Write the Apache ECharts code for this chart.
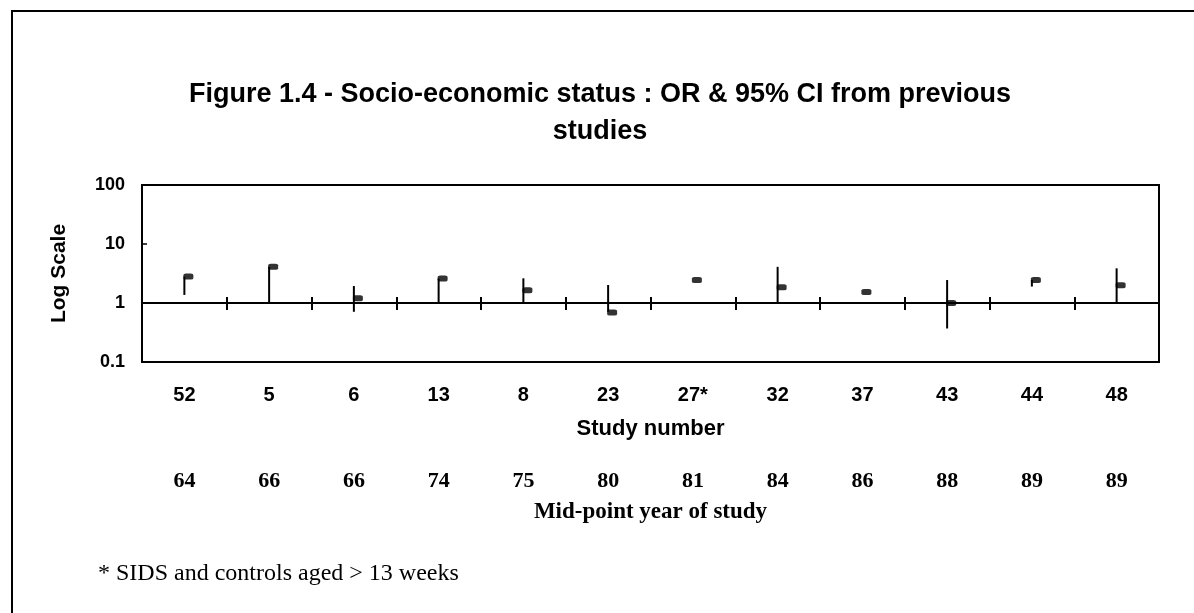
<!DOCTYPE html>
<html>
<head>
<meta charset="utf-8">
<script src="https://cdn.jsdelivr.net/npm/echarts@6/dist/echarts.min.js"></script>
<style>
html,body{margin:0;padding:0;background:#fff;}
#chart{width:1194px;height:613px;}
</style>
</head>
<body>
<div id="chart"></div>
<script>
// ---- data ----
const studies = ['52', '5', '6', '13', '8', '23', '27*', '32', '37', '43', '44', '48'];
const years   = ['64', '66', '66', '74', '75', '80', '81', '84', '86', '88', '89', '89'];
const oddsRatio = [2.8, 4.1, 1.2, 2.6, 1.65, 0.69, 2.45, 1.85, 1.53, 1.0, 2.45, 2.0];
const ciLow  = [1.37, 1.0, 0.71, 1.0, 1.0, 0.71, null, 1.0, null, 0.37, 1.9, 1.0];
const ciHigh = [2.8, 4.1, 1.94, 2.6, 2.62, 2.02, null, 4.1, null, 2.45, 2.45, 3.87];
const yTicks = [0.1, 1, 10, 100];

const ARIAL = '"Liberation Sans", Arial, sans-serif';
const TIMES = '"Liberation Serif", "Times New Roman", serif';

const gridTop = 185, gridHeight = 177, gridLeft = 142, gridWidth = 1017;
const refOffset = -gridHeight / 3; // position of OR = 1 on the 0.1..100 log axis

const ciData = [];
studies.forEach((s, i) => {
  if (ciLow[i] != null && ciHigh[i] != null) ciData.push([i, ciLow[i], ciHigh[i]]);
});
const orData = oddsRatio.map((v, i) => [i, v]);

const chart = echarts.init(document.getElementById('chart'));
chart.setOption({
  animation: false,
  backgroundColor: '#fff',
  title: [
    { text: 'Figure 1.4 - Socio-economic status : OR & 95% CI from previous\nstudies',
      left: 600, top: 76, textAlign: 'center', padding: 0,
      textStyle: { fontFamily: ARIAL, fontWeight: 'bold', fontSize: 27, lineHeight: 37, color: '#000' } }
  ],
  graphic: [
    { type: 'rect', shape: { x: 12, y: 11, width: 1200, height: 620 },
      style: { fill: 'none', stroke: '#000', lineWidth: 2 }, silent: true },
    { type: 'text', left: 98, top: 562,
      style: { text: '* SIDS and controls aged > 13 weeks', font: '24px ' + TIMES, fill: '#000' } }
  ],
  grid: { left: gridLeft, top: gridTop, width: gridWidth, height: gridHeight,
          show: true, borderColor: '#000', borderWidth: 2, backgroundColor: 'transparent' },
  xAxis: [
    { type: 'category', data: studies, position: 'bottom', boundaryGap: true,
      axisLine: { show: false }, axisTick: { show: false }, splitLine: { show: false },
      axisLabel: { margin: 23, fontFamily: ARIAL, fontWeight: 'bold', fontSize: 20, color: '#000' },
      name: 'Study number', nameLocation: 'middle', nameGap: 56,
      nameTextStyle: { fontFamily: ARIAL, fontWeight: 'bold', fontSize: 22, color: '#000' } },
    { type: 'category', data: studies, position: 'bottom', offset: refOffset, boundaryGap: true,
      axisLine: { show: true, lineStyle: { color: '#000', width: 2 } },
      axisTick: { show: true, inside: true, length: 6, lineStyle: { color: '#000', width: 2 } },
      axisLabel: { show: false }, splitLine: { show: false } },
    { type: 'category', data: studies, position: 'bottom', offset: refOffset, boundaryGap: true,
      axisLine: { show: false },
      axisTick: { show: true, inside: false, length: 7, lineStyle: { color: '#000', width: 2 } },
      axisLabel: { show: false }, splitLine: { show: false } },
    { type: 'category', data: years, position: 'bottom', boundaryGap: true,
      axisLine: { show: false }, axisTick: { show: false }, splitLine: { show: false },
      axisLabel: { margin: 108, fontFamily: TIMES, fontWeight: 'bold', fontSize: 22, color: '#000' },
      name: 'Mid-point year of study', nameLocation: 'middle', nameGap: 139,
      nameTextStyle: { fontFamily: TIMES, fontWeight: 'bold', fontSize: 23, color: '#000' } }
  ],
  yAxis: {
    type: 'log', logBase: 10, min: 0.1, max: 100,
    axisLine: { show: true, lineStyle: { color: '#000', width: 2 } },
    axisTick: { show: true, inside: true, length: 5, lineStyle: { color: '#000', width: 1.5 } },
    splitLine: { show: false },
    axisLabel: { margin: 17, fontFamily: ARIAL, fontWeight: 'bold', fontSize: 18, color: '#000',
      formatter: v => { const m = yTicks.find(t => Math.abs(t - v) / t < 1e-6); return m != null ? String(m) : ''; } },
    name: 'Log Scale', nameLocation: 'middle', nameGap: 72, nameRotate: 90,
    nameTextStyle: { fontFamily: ARIAL, fontWeight: 'bold', fontSize: 21, color: '#000' }
  },
  series: [
    { type: 'custom', xAxisIndex: 0, yAxisIndex: 0, data: ciData, z: 3,
      encode: { x: 0, y: [1, 2] },
      renderItem: (params, api) => {
        const p1 = api.coord([api.value(0), api.value(1)]);
        const p2 = api.coord([api.value(0), api.value(2)]);
        return { type: 'line', shape: { x1: p1[0], y1: p1[1], x2: p2[0], y2: p2[1] },
                 style: { stroke: '#000', lineWidth: 2 } };
      } },
    { type: 'scatter', xAxisIndex: 0, yAxisIndex: 0, data: orData, z: 4,
      symbol: 'roundRect', symbolSize: [10, 6], symbolOffset: [4, 0],
      itemStyle: { color: '#000' } }
  ]
});
</script>
</body>
</html>
